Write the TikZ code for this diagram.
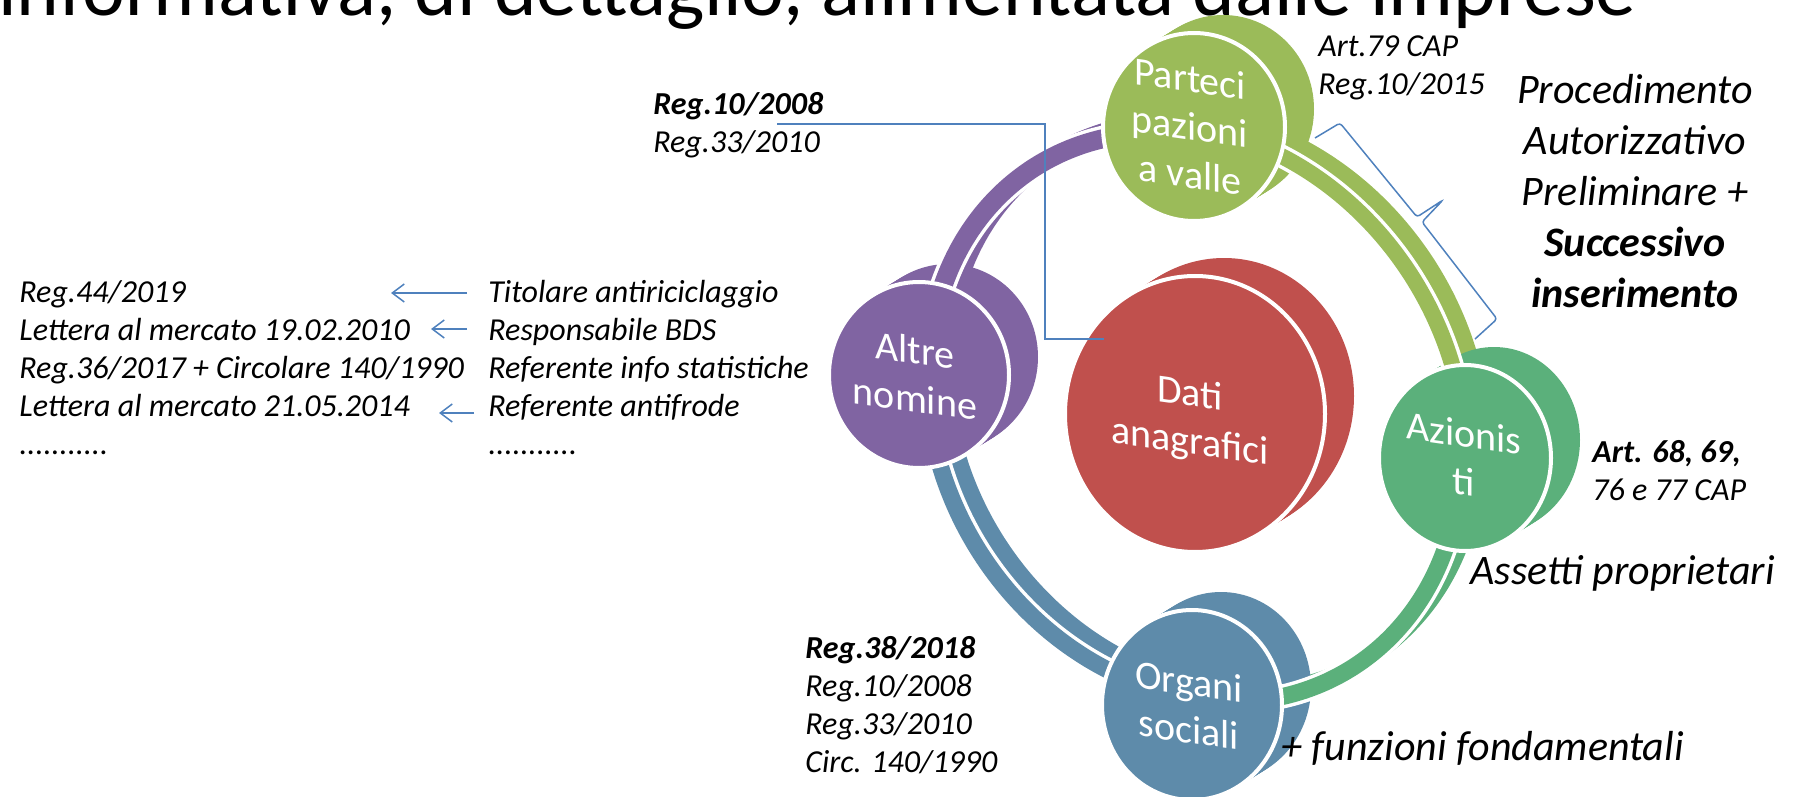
\documentclass[tikz,border=0pt]{standalone}
\usepackage{fontspec}
\setmainfont{Carlito}
\usepackage{xcolor}
\definecolor{leaf-green}{HTML}{9BBB59}
\definecolor{plum-purple}{HTML}{8064A2}
\definecolor{brick-red}{HTML}{C0504D}
\definecolor{jade-green}{HTML}{5BB07B}
\definecolor{slate-blue}{HTML}{5E8BAA}
\definecolor{wire-blue}{HTML}{4F81BD}
\usetikzlibrary{arrows.meta}
\tikzset{note/.style = {font=\fontsize{16}{19}\selectfont\itshape, inner sep=0pt, align=left, anchor=base west}}
\tikzset{remark/.style = {font=\fontsize{21}{25.5}\selectfont\itshape, inner sep=0pt}}
\tikzset{disc/.style = {text=white, font=\fontsize{20}{24}\selectfont, inner sep=0pt, align=center, anchor=base, yslant=-0.14}}
\tikzset{wire/.style = {draw=wire-blue, line width=0.75pt}}
\tikzset{arr/.style = {wire, -{Straight Barb[length=6pt, width=9pt]}}}

% extruded disc: colour, x, y, x radius, y radius
\newcommand{\discback}[5]{%
  \foreach \s in {0.1,0.2,...,1.0}
    \fill[#1] ({#2+29*\s},{#3+18*\s}) ellipse [x radius=#4, y radius=#5];}
\newcommand{\discfront}[5]{%
  \filldraw[fill=#1, draw=white, line width=2pt] (#2,#3) ellipse [x radius=#4, y radius=#5];}

% ring segment: colour, from, to, scale, width
\newcommand{\ringback}[5]{%
  \foreach \s in {0.1,0.2,...,1.0}
    \draw[#1, line width=#5] plot[domain=#2:#3, samples=40, smooth, variable=\t]
      ({1193+#4*273*cos(\t)+17*\s}, {-416+#4*(289*sin(\t)-41.5*cos(\t))+10.5*\s});}
\newcommand{\ringfront}[5]{%
  \draw[white, line width=#5+3.5pt] plot[domain=#2:#3, samples=40, smooth, variable=\t]
      ({1193+#4*273*cos(\t)}, {-416+#4*(289*sin(\t)-41.5*cos(\t))});
  \draw[#1, line width=#5] plot[domain=#2:#3, samples=40, smooth, variable=\t]
      ({1193+#4*273*cos(\t)}, {-416+#4*(289*sin(\t)-41.5*cos(\t))});}

\begin{document}
\begin{tikzpicture}[x=0.5pt, y=0.5pt]
\useasboundingbox (0,0) rectangle (1796,-797);
\clip (0,0) rectangle (1796,-797);

\node[font=\fontsize{40.6}{48}\selectfont, anchor=base west, inner sep=0pt] (title) at (-2,-16)
  {informativa, di dettaglio, alimentata dalle imprese};

% backs of the ring
\ringback{leaf-green}{0}{90}{1.0}{8pt}
\ringback{plum-purple}{90}{180}{0.97}{9.5pt}
\ringback{slate-blue}{180}{270}{0.975}{8.5pt}
\ringback{jade-green}{270}{360}{0.98}{8.5pt}

% backs of the discs
\discback{leaf-green}{1194}{-127}{91}{94}
\discback{plum-purple}{919}{-375}{90}{93}
\discback{brick-red}{1195}{-414}{130}{138}
\discback{jade-green}{1465}{-458}{86}{93}
\discback{slate-blue}{1192}{-705}{90}{95}

% fronts of the ring
\ringfront{leaf-green}{0}{90}{1.0}{8pt}
\ringfront{plum-purple}{90}{180}{0.97}{9.5pt}
\ringfront{slate-blue}{180}{270}{0.975}{8.5pt}
\ringfront{jade-green}{270}{360}{0.98}{8.5pt}

% fronts of the discs
\discfront{leaf-green}{1194}{-127}{91}{94}
\discfront{plum-purple}{919}{-375}{90}{93}
\discfront{brick-red}{1195}{-414}{130}{138}
\discfront{jade-green}{1465}{-458}{86}{93}
\discfront{slate-blue}{1192}{-705}{90}{95}

% anchor = baseline of the last line
\node[disc] (parteci) at (1190,-188) {Parteci\\pazioni\\a valle};
\node[disc] (altre) at (915,-412) {Altre\\nomine};
\node[disc] (dati) at (1190,-454) {Dati\\anagrafici};
\node[disc] (azionisti) at (1464,-495) {Azionis\\ti};
\node[disc] (organi) at (1189,-743) {Organi\\sociali};

% notes
\node[note] (regA) at (653,-153) {\textbf{Reg.10/2008}\\Reg.33/2010};
\node[note] (artA) at (1318,-95) {Art.79 CAP\\Reg.10/2015};
\node[remark, align=center, anchor=base] (proc) at (1635,-307)
  {Procedimento\\Autorizzativo\\Preliminare +\\\textbf{Successivo}\\\textbf{inserimento}};
\node[note] (artB) at (1592,-500) {\textbf{Art. 68, 69,}\\76 e 77 CAP};
\node[remark, anchor=base west] (assetti) at (1470,-584) {Assetti proprietari};
\node[remark, anchor=base west] (funz) at (1281,-760) {+ funzioni fondamentali};
\node[note] (regB) at (805,-772) {\textbf{Reg.38/2018}\\Reg.10/2008\\Reg.33/2010\\Circ. 140/1990};
\node[note] (norme) at (19,-454)
  {Reg.44/2019\\Lettera al mercato 19.02.2010\\Reg.36/2017 + Circolare 140/1990\\Lettera al mercato 21.05.2014\\...........};
\node[note] (ruoli) at (488,-454)
  {Titolare antiriciclaggio\\Responsabile BDS\\Referente info statistiche\\Referente antifrode\\...........};

% connectors
\coordinate (regOut) at (777,-124);
\coordinate (elbow) at (1045,-339);
\coordinate (datiIn) at (1104,-339);
\draw[wire] (regOut) -| (elbow) -- (datiIn);

\coordinate (tipA) at (391,-293);
\coordinate (tipB) at (431,-329);
\coordinate (tipC) at (439,-413);
\draw[arr] (tipA -| ruoli.west) ++(-21,0) -- (tipA);
\draw[arr] (tipB -| ruoli.west) ++(-21,0) -- (tipB);
\draw[arr] (tipC -| ruoli.west) ++(-14,0) -- (tipC);

% brace along the upper right arc
\draw[wire, rounded corners=1.5pt] (1315,-138) -- (1340,-123) -- (1417,-217) -- (1443,-200)
  -- (1422,-222) -- (1497,-319) -- (1475,-339);

\end{tikzpicture}
\end{document}
